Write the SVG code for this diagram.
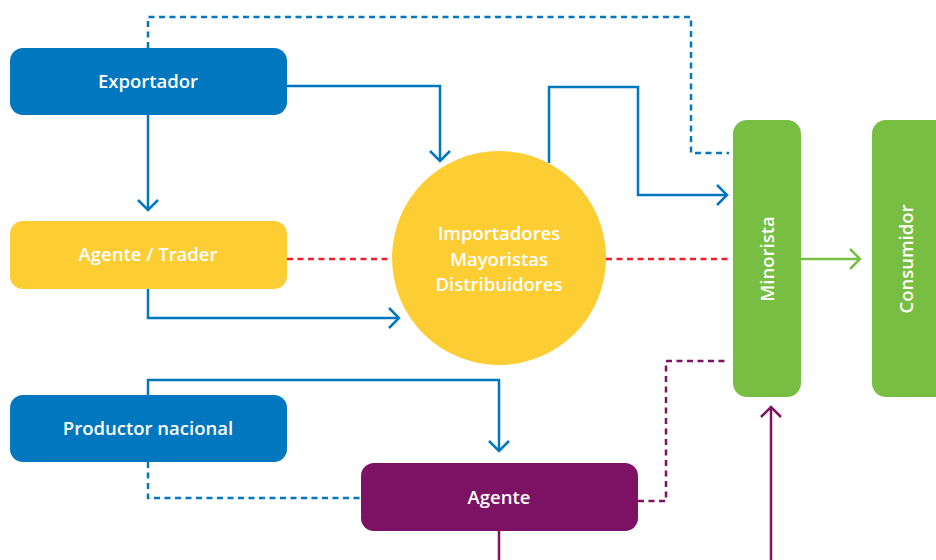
<svg xmlns="http://www.w3.org/2000/svg" width="936" height="560" viewBox="0 0 936 560">
  <style>
    .lbl { font-family: "Open Sans", "Liberation Sans", sans-serif; font-weight: 600; font-size: 18.5px; fill: #ffffff; text-anchor: middle; dominant-baseline: central; }
    .ln { fill: none; stroke-width: 2.5; }
    .blue { stroke: #0077BE; }
    .red { stroke: #EC2028; }
    .green { stroke: #78BE43; }
    .purple { stroke: #7D1164; }
    .dash { stroke-dasharray: 6 4.5; }
  </style>
  <defs>
    <marker id="arrBlue" markerUnits="userSpaceOnUse" markerWidth="24" markerHeight="24" refX="12" refY="12" orient="auto" viewBox="0 0 24 24">
      <path d="M2 2 L12 12 L2 22" fill="none" stroke="#0077BE" stroke-width="2.5"/>
    </marker>
    <marker id="arrGreen" markerUnits="userSpaceOnUse" markerWidth="24" markerHeight="24" refX="12" refY="12" orient="auto" viewBox="0 0 24 24">
      <path d="M2 2 L12 12 L2 22" fill="none" stroke="#78BE43" stroke-width="2.5"/>
    </marker>
    <marker id="arrPurple" markerUnits="userSpaceOnUse" markerWidth="24" markerHeight="24" refX="12" refY="12" orient="auto" viewBox="0 0 24 24">
      <path d="M2 2 L12 12 L2 22" fill="none" stroke="#7D1164" stroke-width="2.5"/>
    </marker>
  </defs>

  <rect width="936" height="560" fill="#ffffff"/>

  <!-- connectors -->
  <g id="connectors">
    <path class="ln blue dash" d="M148 48 V17 H691 V153 H729"/>
    <path class="ln blue" d="M287 86 H440 V161" marker-end="url(#arrBlue)"/>
    <path class="ln blue" d="M148 115 V210" marker-end="url(#arrBlue)"/>
    <path class="ln blue" d="M549 163 V87 H638 V195 H727" marker-end="url(#arrBlue)"/>
    <path class="ln blue" d="M148 289 V318 H399" marker-end="url(#arrBlue)"/>
    <path class="ln red dash" d="M287 259 H392"/>
    <path class="ln red dash" d="M606 259 H729"/>
    <path class="ln blue" d="M148 395 V380 H499 V451" marker-end="url(#arrBlue)"/>
    <path class="ln blue dash" d="M148 462 V498 H361"/>
    <path class="ln purple dash" d="M638 501 H666 V361 H729"/>
    <path class="ln purple" d="M499 531 V560"/>
    <path class="ln purple" d="M771 560 V407" marker-end="url(#arrPurple)"/>
    <path class="ln green" d="M800 259 H860" marker-end="url(#arrGreen)"/>
  </g>

  <!-- nodes -->
  <g id="exportador">
    <rect x="10" y="48" width="277" height="67" rx="13" fill="#0077BE"/>
    <text class="lbl" x="148" y="80">Exportador</text>
  </g>
  <g id="agente-trader">
    <rect x="10" y="221" width="277" height="68" rx="13" fill="#FDCD34"/>
    <text class="lbl" x="148" y="253">Agente / Trader</text>
  </g>
  <g id="productor-nacional">
    <rect x="10" y="395" width="277" height="67" rx="13" fill="#0077BE"/>
    <text class="lbl" x="148" y="427">Productor nacional</text>
  </g>
  <g id="agente">
    <rect x="361" y="463" width="277" height="68" rx="13" fill="#7D1164"/>
    <text class="lbl" x="499" y="496">Agente</text>
  </g>
  <g id="importadores">
    <circle cx="499" cy="258" r="107" fill="#FDCD34"/>
    <text class="lbl" x="499" y="232">Importadores</text>
    <text class="lbl" x="499" y="258">Mayoristas</text>
    <text class="lbl" x="499" y="283">Distribuidores</text>
  </g>
  <g id="minorista">
    <rect x="733" y="120" width="68" height="277" rx="14" fill="#78BE43"/>
    <text class="lbl" transform="translate(766 259) rotate(-90)">Minorista</text>
  </g>
  <g id="consumidor">
    <rect x="872" y="120" width="80" height="277" rx="14" fill="#78BE43"/>
    <text class="lbl" transform="translate(905 259) rotate(-90)">Consumidor</text>
  </g>
</svg>
